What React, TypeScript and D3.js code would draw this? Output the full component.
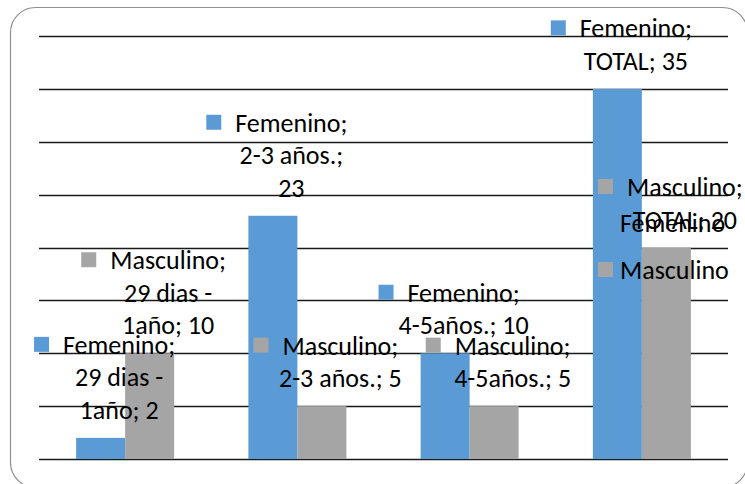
import React, {useEffect, useRef} from 'react'
import * as d3 from 'd3'

const categories = ['29 dias - 1año', '2-3 años.', '4-5años.', 'TOTAL']
// how each category name wraps inside its data label
const categoryLines = [['29 dias -', '1año'], ['2-3 años.'], ['4-5años.'], ['TOTAL']]
const series = ['Femenino', 'Masculino']
const femenino = [2, 23, 10, 35]
const masculino = [10, 5, 5, 20]
const colors = ['#5B9BD5', '#A5A5A5']

const W = 745
const H = 484
const FONT = 'Carlito, Calibri, Lato, sans-serif'
const FS = 26

const labelLines = (s: string, ci: number, v: number) => {
  const cat = categoryLines[ci]
  const lines = [s + ';', ...cat.slice(0, -1)]
  const last = cat[cat.length - 1]
  const joined = `${last}; ${v}`
  if (joined.length <= 12) lines.push(joined)
  else lines.push(last + ';', String(v))
  return lines
}

const App = () => {
  const ref = useRef<SVGSVGElement>(null)

  useEffect(() => {
    const svg = d3.select(ref.current)
    svg.selectAll('*').remove()

    const y = d3.scaleLinear().domain([0, 40]).range([459, 36])
    const x = d3.scaleBand().domain(categories).range([39, 728])
      .paddingInner(0.431).paddingOuter(0.2155)
    const xs = d3.scaleBand().domain(series).range([0, x.bandwidth()])

    // frame
    svg.append('rect')
      .attr('x', 10.5).attr('y', 7.5).attr('width', 737).attr('height', 480)
      .attr('rx', 25).attr('fill', '#fff').attr('stroke', '#8f8f8f').attr('stroke-width', 1.2)

    // gridlines
    svg.append('g').selectAll('line').data(y.ticks(8)).join('line')
      .attr('x1', 39).attr('x2', 728)
      .attr('y1', (d) => Math.round(y(d)) + 0.5).attr('y2', (d) => Math.round(y(d)) + 0.5)
      .attr('stroke', '#1a1a1a').attr('stroke-width', 1.4)

    const values = [femenino, masculino]
    const bars = series.flatMap((s, si) => categories.map((c, ci) => ({s, si, c, ci, v: values[si][ci]})))

    svg.append('g').selectAll('rect').data(bars).join('rect')
      .attr('x', (d) => x(d.c)! + xs(d.s)!)
      .attr('y', (d) => y(d.v))
      .attr('width', xs.bandwidth())
      .attr('height', (d) => y(0) - y(d.v))
      .attr('fill', (d) => colors[d.si])

    // data labels
    const lineH = 32.5
    const labels = svg.append('g')
    bars.forEach((d) => {
      const lines = labelLines(d.s, d.ci, d.v)
      const cx = x(d.c)! + xs(d.s)! + xs.bandwidth() / 2 + 18.5
      const lastBase = y(d.v) - 19
      const firstBase = lastBase - (lines.length - 1) * lineH
      const t = labels.append('text')
        .attr('text-anchor', 'middle')
        .attr('font-family', FONT)
        .attr('font-size', FS)
        .attr('fill', '#000')
      lines.forEach((l, i) => {
        t.append('tspan').attr('x', cx).attr('y', firstBase + i * lineH).text(l)
      })
      const first = t.select<SVGTSpanElement>('tspan').node()!
      const w = first.getComputedTextLength()
      labels.append('rect')
        .attr('x', cx - w / 2 - 14 - 15)
        .attr('y', firstBase - 17)
        .attr('width', 15).attr('height', 15)
        .attr('fill', colors[d.si])
    })

    // legend
    const legend = svg.append('g')
    series.forEach((s, i) => {
      const base = 232 + i * 47
      legend.append('rect')
        .attr('x', 598).attr('y', base - 17).attr('width', 15).attr('height', 15)
        .attr('fill', colors[i])
      legend.append('text')
        .attr('x', 620).attr('y', base)
        .attr('font-family', FONT).attr('font-size', FS)
        .text(s)
    })
  }, [])

  return (
    <svg ref={ref} width={W} height={H} style={{position: 'absolute', left: 0, top: 0}} />
  )
}

export default App
